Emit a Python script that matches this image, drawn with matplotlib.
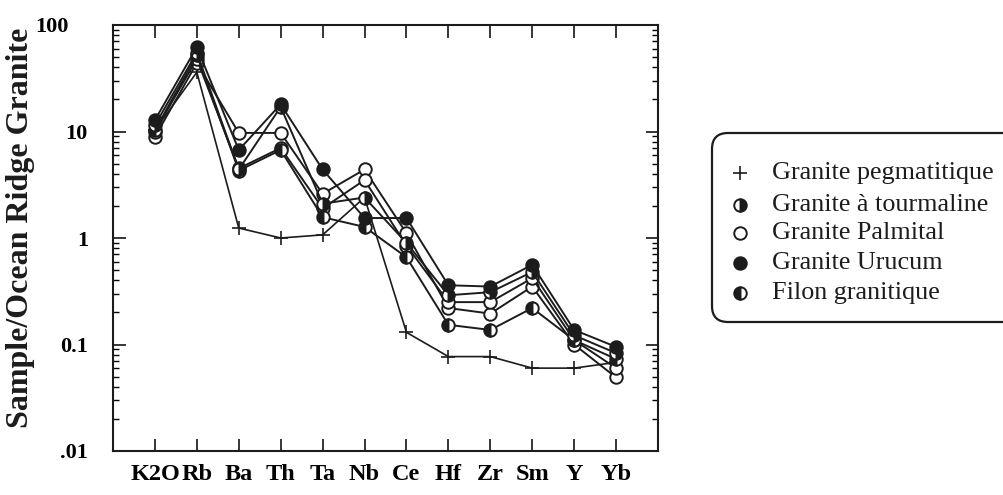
import matplotlib
matplotlib.use('Agg')
import matplotlib.pyplot as plt
from matplotlib.patches import FancyBboxPatch
from matplotlib.lines import Line2D
from matplotlib.ticker import LogLocator, NullFormatter, FixedLocator
from matplotlib.transforms import ScaledTranslation

plt.rcParams['font.family'] = 'Liberation Serif'

# elements along the x axis
elements = ['K2O', 'Rb', 'Ba', 'Th', 'Ta', 'Nb', 'Ce', 'Hf', 'Zr', 'Sm', 'Y', 'Yb']

# normalised values (Sample / Ocean Ridge Granite)
pegmatitique = [10.3, 36, 1.24, 1.0, 1.07, 2.4, 0.13, 0.077, 0.077, 0.06, 0.06, 0.068]
tourmaline   = [11.5, 55, 4.4, 17, 2.1, 2.4, 0.9, 0.29, 0.31, 0.48, 0.122, 0.083]
palmital     = [8.9, 44, 9.7, 9.7, 2.6, 4.4, 1.11, 0.22, 0.195, 0.35, 0.10, 0.049]
palmital_b   = [10.0, 48, 4.5, 7.0, 1.9, 3.5, 0.85, 0.25, 0.25, 0.42, 0.11, 0.060]
urucum       = [12.8, 62, 6.7, 18, 4.4, 1.54, 1.54, 0.36, 0.35, 0.56, 0.137, 0.095]
filon        = [10.3, 52, 4.3, 6.7, 1.57, 1.27, 0.66, 0.153, 0.137, 0.22, 0.11, 0.073]

legend_labels = ['Granite pegmatitique', 'Granite à tourmaline', 'Granite Palmital',
                 'Granite Urucum', 'Filon granitique']

INK = '#1c1c1c'
circ = dict(marker='o', markersize=9, markeredgecolor=INK, markeredgewidth=1.4,
            color=INK, linewidth=1.4)
styles = {
    'peg':   dict(marker='+', markersize=10, markeredgewidth=1.2, color=INK, linewidth=1.2),
    'tour':  dict(circ, markerfacecolor=INK, fillstyle='right', markerfacecoloralt='white'),
    'palm':  dict(circ, markerfacecolor='white'),
    'uru':   dict(circ, markerfacecolor=INK),
    'filon': dict(circ, markerfacecolor=INK, fillstyle='left', markerfacecoloralt='white'),
}

fig = plt.figure(figsize=(10.04, 4.95), dpi=100)
fig.patch.set_facecolor('white')
ax = fig.add_axes([113/1004, 1 - 451/495, 545/1004, 426/495])

x = list(range(len(elements)))
ax.plot(x, pegmatitique, **styles['peg'], zorder=3)
ax.plot(x, palmital, **styles['palm'], zorder=3)
ax.plot(x, palmital_b, **styles['palm'], zorder=3)
ax.plot(x, filon, **styles['filon'], zorder=4)
ax.plot(x, tourmaline, **styles['tour'], zorder=4)
ax.plot(x, urucum, **styles['uru'], zorder=5)

ax.set_yscale('log')
ax.set_ylim(0.01, 100)
ax.set_xlim(-1, 12)

ax.xaxis.set_major_locator(FixedLocator(x))
ax.set_xticklabels(elements, fontsize=17.5, fontweight='bold')
ax.yaxis.set_major_locator(FixedLocator([0.01, 0.1, 1, 10, 100]))
ax.yaxis.set_minor_locator(LogLocator(base=10, subs=range(2, 10)))
ax.yaxis.set_minor_formatter(NullFormatter())
ax.set_yticklabels(['.01', '0.1', '1', '10', '100'], fontsize=16, fontweight='bold')

ax.tick_params(axis='x', which='major', direction='in', length=9, width=1.1,
               top=True, bottom=True, pad=9)
ax.tick_params(axis='y', which='major', direction='in', length=9, width=1.1,
               left=True, right=True, pad=18)
ax.tick_params(axis='y', which='minor', direction='in', length=4, width=1.0,
               left=True, right=True)
for s in ax.spines.values():
    s.set_linewidth(1.5)
    s.set_color(INK)

# "100" sits further left than the other labels in the original
for lab in ax.get_yticklabels():
    if lab.get_text() == '100':
        lab.set_transform(lab.get_transform() +
                          ScaledTranslation(-0.19, 0, fig.dpi_scale_trans))

fig.text(21/1004, 1 - 228/495, 'Sample/Ocean Ridge Granite', rotation=90,
         ha='center', va='center', fontsize=23, fontweight='bold', color=INK)

# legend box, running off the right edge
box = FancyBboxPatch((7.12, 1.73), 3.6, 1.89, boxstyle='round,pad=0,rounding_size=0.16',
                     transform=fig.dpi_scale_trans, facecolor='white',
                     edgecolor=INK, linewidth=1.6, clip_on=False)
fig.patches.append(box)

leg_y = [4.95 - 1.73, 4.95 - 2.05, 4.95 - 2.33, 4.95 - 2.63, 4.95 - 2.93]
leg_styles = ['peg', 'tour', 'palm', 'uru', 'filon']
for yy, key, lab in zip(leg_y, leg_styles, legend_labels):
    st = dict(styles[key])
    st.pop('linewidth', None)
    ln = Line2D([7.40], [yy], linestyle='none', transform=fig.dpi_scale_trans, **st)
    fig.lines.append(ln)
    fig.text(7.72, yy, lab, transform=fig.dpi_scale_trans, ha='left', va='center',
             fontsize=18.8, color=INK)

fig.savefig('out.png', dpi=100)
